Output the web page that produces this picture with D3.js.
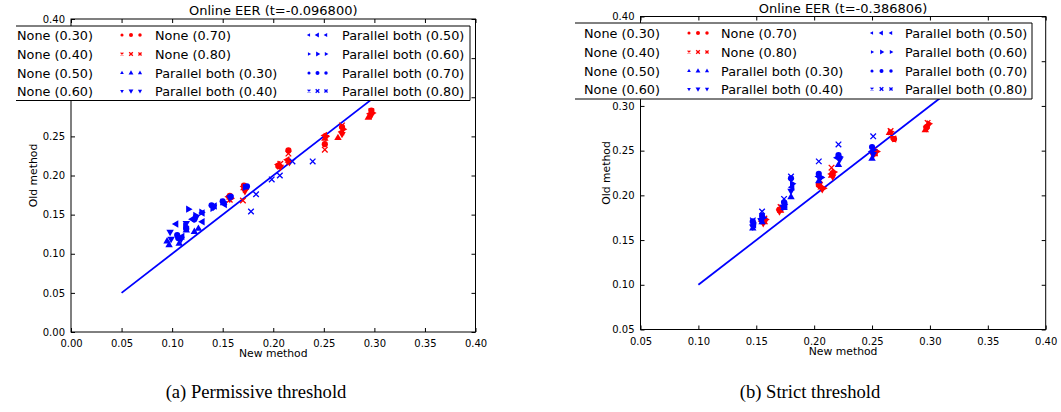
<!DOCTYPE html>
<html><head><meta charset="utf-8">
<script src="https://cdn.jsdelivr.net/npm/d3@7"></script>
<style>
body{margin:0;background:#fff}
svg{display:block}
text{font-family:"DejaVu Sans",sans-serif;fill:#000}
</style>
</head><body>
<svg id="c" width="1061" height="412"></svg>
<script>
// ---------- data ----------
const seriesNames = ["None (0.30)","None (0.40)","None (0.50)","None (0.60)","None (0.70)","None (0.80)",
  "Parallel both (0.30)","Parallel both (0.40)","Parallel both (0.50)","Parallel both (0.60)","Parallel both (0.70)","Parallel both (0.80)"];
const seriesColors = ["#ff0000","#ff0000","#ff0000","#ff0000","#ff0000","#ff0000",
  "#0000ff","#0000ff","#0000ff","#0000ff","#0000ff","#0000ff"];
const seriesShapes = ["up","down","left","right","circle","x","up","down","left","right","circle","x"];

// Panel (a) Permissive threshold: [new method, old method]
const permNone030 = [[0.157,0.172],[0.171,0.184],[0.206,0.213],[0.215,0.219],[0.251,0.247],[0.264,0.248],[0.294,0.274]];
const permNone040 = [[0.157,0.170],[0.172,0.180],[0.207,0.211],[0.216,0.217],[0.252,0.249],[0.268,0.253],[0.297,0.277]];
const permNone050 = [[0.156,0.173],[0.171,0.186],[0.205,0.214],[0.214,0.220],[0.251,0.251],[0.268,0.256],[0.296,0.279]];
const permNone060 = [[0.158,0.171],[0.172,0.182],[0.206,0.212],[0.215,0.218],[0.252,0.250],[0.269,0.259],[0.298,0.280]];
const permNone070 = [[0.157,0.174],[0.171,0.187],[0.205,0.212],[0.215,0.232],[0.251,0.240],[0.268,0.262],[0.297,0.283]];
const permNone080 = [[0.157,0.169],[0.170,0.168],[0.207,0.215],[0.215,0.228],[0.251,0.233],[0.268,0.264],[0.297,0.282]];
const permPar030 = [[0.095,0.116],[0.097,0.111],[0.107,0.113],[0.114,0.130],[0.122,0.128],[0.126,0.132],[0.151,0.165]];
const permPar040 = [[0.098,0.128],[0.099,0.119],[0.109,0.119],[0.114,0.139],[0.124,0.147],[0.141,0.160],[0.157,0.172]];
const permPar050 = [[0.104,0.138],[0.110,0.122],[0.120,0.144],[0.130,0.141],[0.130,0.152],[0.142,0.161],[0.152,0.163]];
const permPar060 = [[0.116,0.157],[0.113,0.135],[0.123,0.149],[0.129,0.153],[0.140,0.158],[0.150,0.166],[0.172,0.185]];
const permPar070 = [[0.105,0.124],[0.106,0.120],[0.114,0.132],[0.122,0.144],[0.139,0.162],[0.150,0.167],[0.158,0.173],[0.174,0.186]];
const permPar080 = [[0.178,0.154],[0.183,0.176],[0.1985,0.195],[0.2065,0.200],[0.219,0.218],[0.239,0.218]];

// Panel (b) Strict threshold
const strictNone030 = [[0.157,0.170],[0.171,0.183],[0.206,0.209],[0.215,0.222],[0.252,0.246],[0.265,0.270],[0.296,0.273]];
const strictNone040 = [[0.156,0.169],[0.170,0.182],[0.207,0.207],[0.216,0.221],[0.251,0.245],[0.268,0.264],[0.297,0.275]];
const strictNone050 = [[0.155,0.171],[0.171,0.185],[0.205,0.210],[0.215,0.224],[0.253,0.248],[0.269,0.263],[0.298,0.278]];
const strictNone060 = [[0.158,0.173],[0.172,0.186],[0.208,0.208],[0.217,0.226],[0.254,0.249],[0.266,0.271],[0.299,0.280]];
const strictNone070 = [[0.157,0.172],[0.170,0.184],[0.204,0.212],[0.216,0.225],[0.252,0.247],[0.269,0.263],[0.297,0.276]];
const strictNone080 = [[0.157,0.174],[0.171,0.187],[0.205,0.217],[0.215,0.231],[0.251,0.250],[0.266,0.272],[0.298,0.281]];
const strictPar030 = [[0.147,0.163],[0.155,0.170],[0.174,0.186],[0.180,0.198],[0.204,0.216],[0.221,0.234],[0.250,0.241]];
const strictPar040 = [[0.147,0.165],[0.154,0.172],[0.173,0.187],[0.180,0.205],[0.205,0.219],[0.222,0.240],[0.251,0.246]];
const strictPar050 = [[0.148,0.167],[0.155,0.174],[0.175,0.189],[0.181,0.209],[0.204,0.221],[0.220,0.242],[0.250,0.249]];
const strictPar060 = [[0.147,0.169],[0.156,0.175],[0.174,0.190],[0.181,0.213],[0.206,0.220],[0.222,0.243],[0.251,0.251]];
const strictPar070 = [[0.147,0.171],[0.155,0.177],[0.174,0.192],[0.180,0.219],[0.204,0.224],[0.221,0.245],[0.250,0.254]];
const strictPar080 = [[0.147,0.172],[0.155,0.182],[0.174,0.196],[0.180,0.221],[0.204,0.238],[0.221,0.257],[0.251,0.266]];

const permTicks = [0,0.05,0.10,0.15,0.20,0.25,0.30,0.35,0.40];
const strictTicks = [0.05,0.10,0.15,0.20,0.25,0.30,0.35,0.40];
const permLine = [0.05,0.35];
const strictLine = [0.10,0.35];
const titles = ["Online EER (t=-0.096800)","Online EER (t=-0.386806)"];
const captions = ["(a) Permissive threshold","(b) Strict threshold"];
const xLabel = "New method", yLabel = "Old method";

// ---------- drawing ----------
const svg = d3.select("#c");
const shapeGen = {
  up: d3.symbol(d3.symbolTriangle, 24), down: d3.symbol(d3.symbolTriangle, 24),
  left: d3.symbol(d3.symbolTriangle, 24), right: d3.symbol(d3.symbolTriangle, 24),
  circle: d3.symbol(d3.symbolCircle, 30), x: d3.symbol(d3.symbolTimes, 22)
};
const rot = {up:0, down:180, left:-90, right:90, circle:0, x:0};

function drawMarker(g, shape, color, cx, cy, scale) {
  const p = g.append("path")
    .attr("d", shapeGen[shape]())
    .attr("transform", `translate(${cx},${cy}) rotate(${rot[shape]}) scale(${scale})`);
  if (shape === "x") p.attr("fill", "none").attr("stroke", color).attr("stroke-width", 1.3 / scale);
  else p.attr("fill", color);
}

function panel(cfg) {
  const x = d3.scaleLinear().domain(cfg.dom).range(cfg.xr);
  const y = d3.scaleLinear().domain(cfg.dom).range(cfg.yr);
  const L = cfg.legend;
  const g = svg.append("g");
  // y tick labels that fall behind the legend box are not shown (as in the reference)
  const yFmt = d => { const py = y(d); return (py > L.y0 - 4 && py < L.y1 + 4) ? "" : d3.format(".2f")(d); };
  const axB = d3.axisBottom(x).tickValues(cfg.ticks).tickFormat(d3.format(".2f")).tickSizeInner(-4).tickSizeOuter(0).tickPadding(8);
  const axL = d3.axisLeft(y).tickValues(cfg.ticks).tickFormat(yFmt).tickSizeInner(-4).tickSizeOuter(0).tickPadding(6);
  const axT = d3.axisTop(x).tickValues(cfg.ticks).tickFormat("").tickSizeInner(-4).tickSizeOuter(0);
  const axR = d3.axisRight(y).tickValues(cfg.ticks).tickFormat("").tickSizeInner(-4).tickSizeOuter(0);
  const style = s => s.call(a => a.select(".domain").remove())
      .call(a => a.selectAll("line").attr("stroke", "#000"))
      .call(a => a.selectAll("text").attr("font-size", 10).attr("font-family", "DejaVu Sans").attr("fill","#000"));
  g.append("g").attr("transform", `translate(0,${cfg.yr[0]})`).call(axB).call(style);
  g.append("g").attr("transform", `translate(${cfg.xr[0]},0)`).call(axL).call(style);
  g.append("g").attr("transform", `translate(0,${cfg.yr[1]})`).call(axT).call(style);
  g.append("g").attr("transform", `translate(${cfg.xr[1]},0)`).call(axR).call(style);
  g.append("rect").attr("x", cfg.xr[0]).attr("y", cfg.yr[1])
    .attr("width", cfg.xr[1]-cfg.xr[0]).attr("height", cfg.yr[0]-cfg.yr[1])
    .attr("fill", "none").attr("stroke", "#000").attr("stroke-width", 1);

  // diagonal reference line
  g.append("path").datum(cfg.line)
    .attr("d", d3.line().x(d => x(d)).y(d => y(d)))
    .attr("stroke", "#0000ff").attr("stroke-width", 1.8).attr("fill", "none");

  // scatter
  cfg.series.forEach((pts, i) => {
    const sg = g.append("g");
    pts.forEach(p => drawMarker(sg, seriesShapes[i], seriesColors[i], x(p[0]), y(p[1]), 1));
  });

  // title & labels
  g.append("text").attr("x", (cfg.xr[0]+cfg.xr[1])/2).attr("y", cfg.titleY)
    .attr("text-anchor", "middle").attr("font-size", 13).text(cfg.title);
  g.append("text").attr("x", (cfg.xr[0]+cfg.xr[1])/2).attr("y", cfg.yr[0]+25)
    .attr("text-anchor", "middle").attr("font-size", 10.8).text(xLabel);
  g.append("text").attr("transform", `translate(${cfg.yLabX},${(cfg.yr[0]+cfg.yr[1])/2}) rotate(-90)`)
    .attr("text-anchor", "middle").attr("font-size", 10.8).text(yLabel);

  // legend
  const lg = g.append("g");
  lg.append("rect").attr("x", L.x0).attr("y", L.y0).attr("width", L.x1 - L.x0).attr("height", L.y1 - L.y0)
    .attr("fill", "#fff").attr("stroke", "none");
  lg.append("path").attr("d", `M${L.x0},${L.y0}H${L.x1}V${L.y1}H${L.x0}`)
    .attr("fill", "none").attr("stroke", "#000").attr("stroke-width", 1);
  const sizes = [0.8, 1.05, 0.9];
  seriesNames.forEach((name, i) => {
    const col = Math.floor(i / 4), row = i % 4;
    const ty = L.rows[row];
    lg.append("text").attr("x", L.textX[col]).attr("y", ty + 4.6).attr("font-size", 12.8).text(name);
    if (col > 0) {
      L.markX[col].forEach((mx, k) => drawMarker(lg, seriesShapes[i], seriesColors[i], mx, ty, 0.62 * sizes[k]));
    }
  });

  // caption
  svg.append("text").attr("x", cfg.capX).attr("y", 398).attr("text-anchor", "middle")
    .style("font-family", "'Liberation Serif','Times New Roman',serif").attr("font-size", 18.6).text(cfg.caption);
}

panel({
  dom: [0, 0.4], xr: [71, 475.5], yr: [332, 19], ticks: permTicks, line: permLine,
  series: [permNone030, permNone040, permNone050, permNone060, permNone070, permNone080,
           permPar030, permPar040, permPar050, permPar060, permPar070, permPar080],
  title: titles[0], titleY: 15, yLabX: 37, caption: captions[0], capX: 256,
  legend: {x0: 16, x1: 470, y0: 26, y1: 100.5, rows: [35, 54, 73, 91],
           textX: [17, 155, 342], markX: [[], [122, 131, 140], [309, 317.5, 326]]}
});
panel({
  dom: [0.05, 0.4], xr: [640.5, 1045.7], yr: [329.5, 16.5], ticks: strictTicks, line: strictLine,
  series: [strictNone030, strictNone040, strictNone050, strictNone060, strictNone070, strictNone080,
           strictPar030, strictPar040, strictPar050, strictPar060, strictPar070, strictPar080],
  title: titles[1], titleY: 13, yLabX: 610, caption: captions[1], capX: 810,
  legend: {x0: 575, x1: 1032, y0: 23, y1: 99, rows: [33, 52, 71, 89],
           textX: [584, 721, 905], markX: [[], [689, 698, 707], [872, 881.5, 891]]}
});
</script>
</body></html>
